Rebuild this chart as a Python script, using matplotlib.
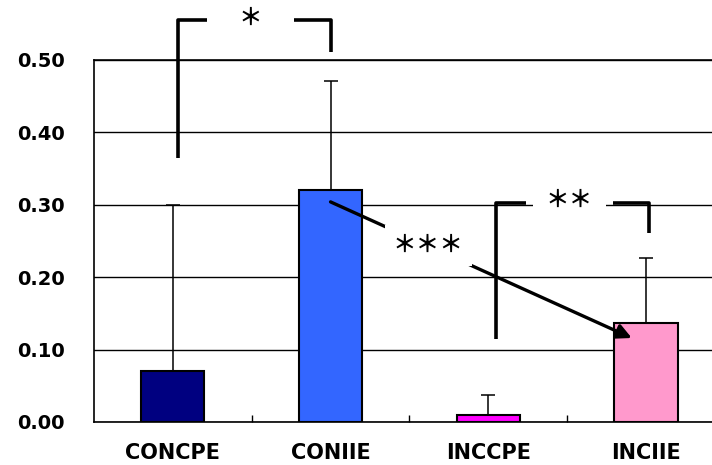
import matplotlib.pyplot as plt
import numpy as np

# group means and upper error (mean + SD)
groups = ['CONCPE', 'CONIIE', 'INCCPE', 'INCIIE']
means = [0.070, 0.320, 0.010, 0.137]
sd = [0.230, 0.151, 0.027, 0.090]
colors = ['#000080', '#3366FF', '#FF00FF', '#FF99CC']
yticks = [0.0, 0.1, 0.2, 0.3, 0.4, 0.5]

fig = plt.figure(figsize=(7.12, 4.65), dpi=100)
ax = fig.add_axes([0.132, 0.0925, 0.886, 0.7785])

x = np.arange(len(groups))
ax.bar(x, means, width=0.4, color=colors, edgecolor='black', linewidth=1.5, zorder=3)
ax.errorbar(x, means, yerr=[np.zeros(len(sd)), sd], fmt='none', ecolor='black',
            elinewidth=1.1, capsize=5, capthick=1.1, zorder=2)

ax.set_xlim(-0.5, 3.5)
ax.set_ylim(0, 0.5)
ax.set_yticks(yticks)
ax.set_yticklabels(['%.2f' % v for v in yticks], fontsize=14, fontweight='bold')
ax.yaxis.grid(True, color='black', linewidth=1.0, zorder=0)
ax.set_axisbelow(True)
ax.tick_params(axis='y', length=0, pad=21)

# category boundary ticks along the bottom
ax.set_xticks([0.5, 1.5, 2.5])
ax.set_xticklabels([])
ax.tick_params(axis='x', direction='in', length=5, width=1.0)
ax.set_xticks(x, minor=True)
ax.set_xticklabels(groups, minor=True, fontsize=15, fontweight='bold')
ax.tick_params(axis='x', which='minor', length=0, pad=15)

for side in ['left', 'bottom', 'top', 'right']:
    ax.spines[side].set_linewidth(1.2)

star_font = ['Noto Sans CJK JP', 'DejaVu Sans']
lk = dict(color='black', linewidth=2.6, solid_capstyle='butt', clip_on=False, zorder=6)

# CONCPE vs CONIIE
ax.plot([0.03, 0.03, 0.216], [0.365, 0.555, 0.555], **lk)
ax.plot([0.768, 1.0, 1.0], [0.555, 0.555, 0.511], **lk)
ax.text(0.49, 0.558, '＊', family=star_font, fontweight='bold', fontsize=17,
        ha='center', va='center')

# INCCPE vs INCIIE
ax.plot([2.05, 2.05, 2.24], [0.115, 0.302, 0.302], **lk)
ax.plot([2.79, 3.02, 3.02], [0.302, 0.302, 0.261], **lk)
ax.text(2.515, 0.307, '＊＊', family=star_font, fontweight='bold', fontsize=17,
        ha='center', va='center',
        bbox=dict(boxstyle='square,pad=0.55', facecolor='white', edgecolor='none'), zorder=7)

# CONIIE vs INCIIE
ax.annotate('', xy=(2.91, 0.116), xytext=(1.0, 0.304),
            arrowprops=dict(arrowstyle='-|>', color='black', lw=2.4, mutation_scale=22,
                            shrinkA=0, shrinkB=0), zorder=6)
ax.text(1.62, 0.244, '＊＊＊', family=star_font, fontweight='bold', fontsize=17,
        ha='center', va='center',
        bbox=dict(boxstyle='square,pad=0.35', facecolor='white', edgecolor='none'), zorder=7)

fig.savefig('out.png', dpi=100)
